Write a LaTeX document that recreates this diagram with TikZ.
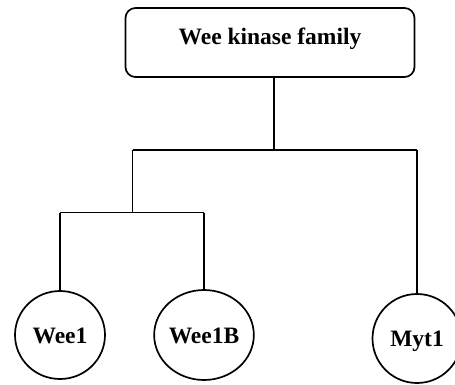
\documentclass[tikz,border=0pt]{standalone}
\usepackage{fontspec}
\setmainfont{Liberation Serif}
\usetikzlibrary{shapes.geometric}
\begin{document}
\begin{tikzpicture}[x=1pt,y=-1pt, line width=1.7pt,
  lbl/.style={font=\fontsize{23.5}{28}\selectfont\bfseries},
  famebox/.style={draw, rounded corners=10pt, minimum width=289pt, minimum height=69pt, inner sep=0pt, text height=17pt, text depth=12pt, lbl},
  leaf/.style={draw, ellipse, inner sep=0pt, text height=16pt, text depth=0pt, lbl},
  link/.style={line width=1.9pt}]
\useasboundingbox (0,0) rectangle (455,385);
\node[famebox] (fam) at (270,42.5) {Wee kinase family};
\node[leaf, minimum width=90pt, minimum height=88pt] (w1) at (60,335) {Wee1};
\node[leaf, minimum width=99pt, minimum height=90pt] (w1b) at (204,335) {Wee1B};
\node[leaf, minimum width=89pt, minimum height=89pt] (myt) at (417,338.5) {Myt1};
\coordinate (j1) at (274,150);
\coordinate (jl) at (132.5,150);
\coordinate (jr) at (417,150);
\coordinate (j2) at (132.5,212.5);
\coordinate (j2l) at (60,212.5);
\coordinate (j2r) at (204,212.5);
\draw[link] (fam.south -| j1) -- (j1);
\draw[link] (jl) -- (jr);
\draw[link] (jl) -- (j2);
\draw[link] (jr) -- (myt.north);
\draw[link] (j2l) -- (j2r);
\draw[link] (j2l) -- (w1.north);
\draw[link] (j2r) -- (w1b.north);
\end{tikzpicture}
\end{document}
